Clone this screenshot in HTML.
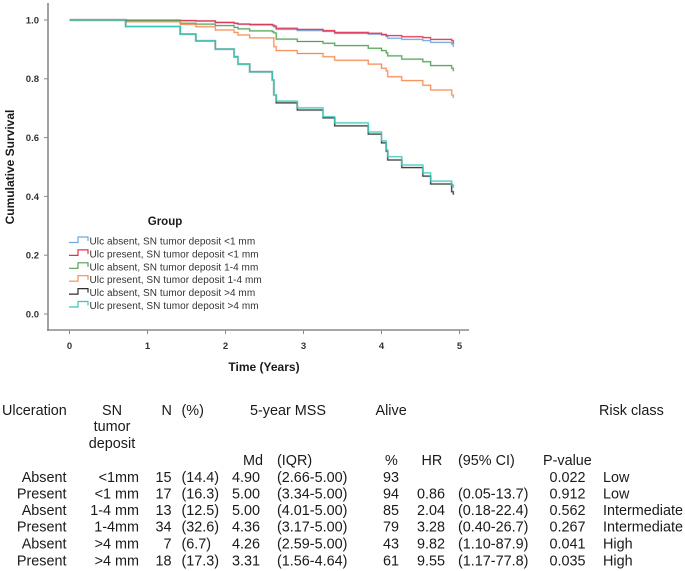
<!DOCTYPE html>
<html lang="en"><head><meta charset="utf-8"><title>Cumulative survival chart</title>
<style>
html,body{margin:0;padding:0;background:#fff}
#page{position:relative;width:685px;height:571px;overflow:hidden;background:#fff}
svg{position:absolute;left:0;top:0}
text{font-family:"Liberation Sans",Arial,sans-serif;fill:#1a1a1a}
#table text{font-size:14.4px}
.r{text-anchor:end}
.c{text-anchor:middle}
</style></head>
<body>
<div id="page">
<svg id="chart" width="685" height="390" viewBox="0 0 685 390" style="filter:blur(.35px)"></svg>
<svg id="table" width="685" height="571" viewBox="0 0 685 571">
<g>
<text x="2" y="415">Ulceration</text>
<text x="112" y="415" class="c">SN</text>
<text x="112" y="431" class="c">tumor</text>
<text x="112" y="448" class="c">deposit</text>
<text x="161.5" y="415">N</text>
<text x="181.5" y="415">(%)</text>
<text x="250" y="415">5-year MSS</text>
<text x="375.5" y="415">Alive</text>
<text x="599" y="415">Risk class</text>
<text x="243" y="465">Md</text>
<text x="277" y="465">(IQR)</text>
<text x="385" y="465">%</text>
<text x="421.5" y="465">HR</text>
<text x="458" y="465">(95% CI)</text>
<text x="543" y="465">P-value</text>
</g>
<g>
<text x="66.5" y="482" class="r">Absent</text><text x="139" y="482" class="r">&lt;1mm</text><text x="171.5" y="482" class="r">15</text><text x="181.5" y="482">(14.4)</text><text x="260" y="482" class="r">4.90</text><text x="277" y="482">(2.66-5.00)</text><text x="399" y="482" class="r">93</text><text x="585.5" y="482" class="r">0.022</text><text x="603" y="482">Low</text>
</g>
<g>
<text x="66.5" y="498.5" class="r">Present</text><text x="139" y="498.5" class="r">&lt;1 mm</text><text x="171.5" y="498.5" class="r">17</text><text x="181.5" y="498.5">(16.3)</text><text x="260" y="498.5" class="r">5.00</text><text x="277" y="498.5">(3.34-5.00)</text><text x="399" y="498.5" class="r">94</text><text x="445" y="498.5" class="r">0.86</text><text x="458" y="498.5">(0.05-13.7)</text><text x="585.5" y="498.5" class="r">0.912</text><text x="603" y="498.5">Low</text>
</g>
<g>
<text x="66.5" y="515" class="r">Absent</text><text x="139" y="515" class="r">1-4 mm</text><text x="171.5" y="515" class="r">13</text><text x="181.5" y="515">(12.5)</text><text x="260" y="515" class="r">5.00</text><text x="277" y="515">(4.01-5.00)</text><text x="399" y="515" class="r">85</text><text x="445" y="515" class="r">2.04</text><text x="458" y="515">(0.18-22.4)</text><text x="585.5" y="515" class="r">0.562</text><text x="603" y="515">Intermediate</text>
</g>
<g>
<text x="66.5" y="531.7" class="r">Present</text><text x="139" y="531.7" class="r">1-4mm</text><text x="171.5" y="531.7" class="r">34</text><text x="181.5" y="531.7">(32.6)</text><text x="260" y="531.7" class="r">4.36</text><text x="277" y="531.7">(3.17-5.00)</text><text x="399" y="531.7" class="r">79</text><text x="445" y="531.7" class="r">3.28</text><text x="458" y="531.7">(0.40-26.7)</text><text x="585.5" y="531.7" class="r">0.267</text><text x="603" y="531.7">Intermediate</text>
</g>
<g>
<text x="66.5" y="548.3" class="r">Absent</text><text x="139" y="548.3" class="r">&gt;4 mm</text><text x="171.5" y="548.3" class="r">7</text><text x="181.5" y="548.3">(6.7)</text><text x="260" y="548.3" class="r">4.26</text><text x="277" y="548.3">(2.59-5.00)</text><text x="399" y="548.3" class="r">43</text><text x="445" y="548.3" class="r">9.82</text><text x="458" y="548.3">(1.10-87.9)</text><text x="585.5" y="548.3" class="r">0.041</text><text x="603" y="548.3">High</text>
</g>
<g>
<text x="66.5" y="565.5" class="r">Present</text><text x="139" y="565.5" class="r">&gt;4 mm</text><text x="171.5" y="565.5" class="r">18</text><text x="181.5" y="565.5">(17.3)</text><text x="260" y="565.5" class="r">3.31</text><text x="277" y="565.5">(1.56-4.64)</text><text x="399" y="565.5" class="r">61</text><text x="445" y="565.5" class="r">9.55</text><text x="458" y="565.5">(1.17-77.8)</text><text x="585.5" y="565.5" class="r">0.035</text><text x="603" y="565.5">High</text>
</g>
</svg>
</div>
<script>
const xTicks = [0, 1, 2, 3, 4, 5];
const yTicks = ['0.0', '0.2', '0.4', '0.6', '0.8', '1.0'];
const times = [0, 0.72, 1.42, 1.62, 1.87, 2.11, 2.16, 2.31, 2.6, 2.62, 2.65, 2.92, 3.25, 3.40, 3.83, 4.0, 4.06, 4.08, 4.26, 4.53, 4.63, 4.9];
const endTime = 4.92;
const ulcAbsentUnder1 = [1, .999, .998, .996, .991, .988, .986, .983, .981, .976, .968, .964, .961, .954, .952, .949, .944, .938, .934, .930, .924, .918];
const ulcPresentUnder1 = [1, .999, .998, .997, .992, .989, .986, .985, .983, .980, .972, .968, .964, .958, .955, .951, .947, .947, .943, .940, .934, .930];
const ulcAbsent1to4 = [1, .998, .989, .986, .981, .975, .970, .963, .960, .956, .935, .927, .921, .913, .904, .896, .888, .878, .867, .858, .845, .836];
const ulcPresent1to4 = [1, .994, .985, .977, .966, .958, .949, .939, .939, .909, .896, .886, .875, .863, .850, .836, .827, .807, .794, .778, .762, .745];
const ulcAbsentOver4 = [1, .978, .952, .929, .901, .875, .850, .824, .796, .745, .718, .694, .667, .640, .612, .582, .554, .524, .498, .469, .442, .416];
const ulcPresentOver4 = [1, .978, .952, .929, .901, .875, .850, .824, .796, .745, .724, .701, .671, .650, .619, .589, .558, .535, .507, .480, .452, .439];
const seriesLabels = ['Ulc absent, SN tumor deposit <1 mm', 'Ulc present, SN tumor deposit <1 mm', 'Ulc absent, SN tumor deposit 1-4 mm', 'Ulc present, SN tumor deposit 1-4 mm', 'Ulc absent, SN tumor deposit >4 mm', 'Ulc present, SN tumor deposit >4 mm'];
const seriesValues = [ulcAbsentUnder1, ulcPresentUnder1, ulcAbsent1to4, ulcPresent1to4, ulcAbsentOver4, ulcPresentOver4];
const seriesColors = ['#6fa8dc', '#e0324f', '#4f9f55', '#f58a55', '#2e2e2e', '#35c9b8'];

const svg = document.getElementById('chart');
const NS = 'http://www.w3.org/2000/svg';
const xAxis = t => 69.5 + 78 * t;
const yAxis = v => 314 - 294 * v;
function mk(tag, attrs, parent, txt) {
  const e = document.createElementNS(NS, tag);
  for (const k in attrs) e.setAttribute(k, attrs[k]);
  if (txt !== undefined) e.textContent = txt;
  (parent || svg).appendChild(e);
  return e;
}
const axisLeft = mk('line', {x1: 48, y1: 3, x2: 48, y2: 331, stroke: '#8a8a8a', 'stroke-width': 1.6});


const axisBottom = mk('line', {x1: 47, y1: 330, x2: 469, y2: 330, stroke: '#8a8a8a', 'stroke-width': 1.6});



yTicks.forEach(lbl => {
  const y = yAxis(parseFloat(lbl));
  const tick = mk('line', {x1: 44, y1: y, x2: 48, y2: y, stroke: '#8a8a8a', 'stroke-width': 1});
  
  
  const t = mk('text', {x: 39, y: y + 3.4, 'text-anchor': 'end', 'font-size': 9.5, 'font-weight': 'bold', style: 'fill:#333'}, svg, lbl);
  
  
});
xTicks.forEach(v => {
  const x = xAxis(v);
  const tick = mk('line', {x1: x, y1: 330, x2: x, y2: 334, stroke: '#8a8a8a', 'stroke-width': 1});
  
  
  const t = mk('text', {x: x, y: 349, 'text-anchor': 'middle', 'font-size': 9.5, 'font-weight': 'bold', style: 'fill:#333'}, svg, v);
  
  
});

seriesValues.forEach((vals, i) => {
  let d = 'M' + xAxis(times[0]) + ' ' + yAxis(vals[0]);
  for (let k = 1; k < vals.length; k++) {
    d += 'H' + xAxis(times[k]) + 'V' + yAxis(vals[k]);
  }
  d += 'H' + xAxis(endTime);
  d += 'V' + (yAxis(vals[vals.length - 1]) + 3);
  const halo = mk('path', {d: d, fill: 'none', stroke: seriesColors[i], 'stroke-width': 2.2, 'stroke-opacity': .22});
  
  
  const line = mk('path', {d: d, fill: 'none', stroke: seriesColors[i], 'stroke-width': 1});
  
  
});

const yTitle = mk('text', {x: 0, y: 0, transform: 'translate(14,167) rotate(-90)', 'text-anchor': 'middle', 'font-size': 12, 'font-weight': 'bold'}, svg, 'Cumulative Survival');


const xTitle = mk('text', {x: 264, y: 371, 'text-anchor': 'middle', 'font-size': 12, 'font-weight': 'bold'}, svg, 'Time (Years)');


const legendTitle = mk('text', {x: 165, y: 225, 'text-anchor': 'middle', 'font-size': 11.5, 'font-weight': 'bold'}, svg, 'Group');



seriesLabels.forEach((lbl, i) => {
  const y = 241 + i * 12.9;
  const icon = mk('path', {d: 'M69 ' + (y + 1.5) + 'H78V' + (y - 4) + 'H88V' + y, fill: 'none', stroke: seriesColors[i], 'stroke-width': 1.2});
  
  
  const t = mk('text', {x: 89.5, y: y + 3.5, 'font-size': 10, 'letter-spacing': '.06', style: 'fill:#333'}, svg, lbl);
  
  
});
</script>
</body></html>
